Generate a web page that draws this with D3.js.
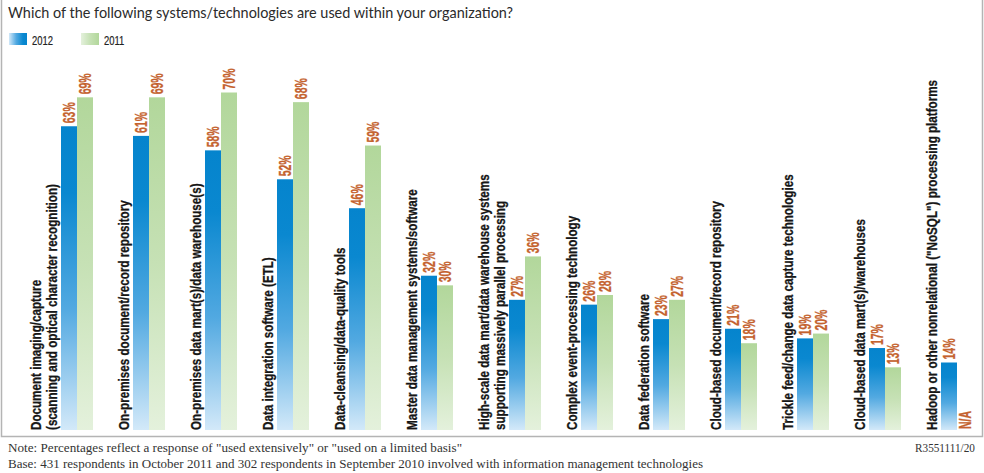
<!DOCTYPE html>
<html><head><meta charset="utf-8">
<script src="https://cdn.jsdelivr.net/npm/d3@7"></script>
<style>body{margin:0;background:#fff;} svg{display:block}</style>
</head><body><svg id="c" width="984" height="473"></svg>
<script>
const categories = [
  ["Document imaging/capture", "(scanning and optical character recognition)"],
  ["On-premises document/record repository"],
  ["On-premises data mart(s)/data warehouse(s)"],
  ["Data integration software (ETL)"],
  ["Data-cleansing/data-quality tools"],
  ["Master data management systems/software"],
  ["High-scale data mart/data warehouse systems", "supporting massively parallel processing"],
  ["Complex event-processing technology"],
  ["Data federation software"],
  ["Cloud-based document/record repository"],
  ["Trickle feed/change data capture technologies"],
  ["Cloud-based data mart(s)/warehouses"],
  ["Hadoop or other nonrelational (\"NoSQL\") processing platforms"]
];
const seriesNames = ["2012", "2011"];
const values2012 = [63, 61, 58, 52, 46, 32, 27, 26, 23, 21, 19, 17, 14];
const values2011 = [69, 69, 70, 68, 59, 30, 36, 28, 27, 18, 20, 13, null];
const subtitle = "Which of the following systems/technologies are used within your organization?";
const note1 = "Note: Percentages reflect a response of \"used extensively\" or \"used on a limited basis\"";
const note2 = "Base: 431 respondents in October 2011 and 302 respondents in September 2010 involved with information management technologies";
const code = "R3551111/20";

const svg = d3.select("#c");
const sans = "'Liberation Sans', Arial, sans-serif";

// measure helper to emulate a condensed face by horizontal compression
function measure(txt, size, weight) {
  const t = svg.append("text").attr("font-family", sans).attr("font-size", size)
    .attr("font-weight", weight).text(txt);
  const w = t.node().getComputedTextLength();
  t.remove();
  return w;
}
const labelSize = 14.5, valueSize = 16, legendSize = 12.5;
const labelK = 230 / measure("On-premises document/record repository", labelSize, "bold");
const valueK = 21 / measure("63%", valueSize, "bold");
const legendK = 21 / measure("2012", legendSize, "normal");

// gradients
const defs = svg.append("defs");
function grad(id, stops, horiz) {
  const g = defs.append("linearGradient").attr("id", id)
    .attr("x1", 0).attr("y1", 0).attr("x2", horiz ? 1 : 0).attr("y2", horiz ? 0 : 1);
  stops.forEach(s => g.append("stop").attr("offset", s[0]).attr("stop-color", s[1]));
}
const blueStops = [[0, "#0584cd"], [0.22, "#0a88d0"], [0.6, "#52a9e1"], [1, "#d3e9f9"]];
const greenStops = [[0, "#b2d79b"], [0.5, "#c6e1b5"], [1, "#e4f1dc"]];
grad("gBlue", blueStops, false);
grad("gGreen", greenStops, false);
grad("lBlue", blueStops.slice().reverse().map(s => [1 - s[0], s[1]]), true);
grad("lGreen", greenStops.slice().reverse().map(s => [1 - s[0], s[1]]), true);
const fills = {"2012": "url(#gBlue)", "2011": "url(#gGreen)"};
const legendFills = {"2012": "url(#lBlue)", "2011": "url(#lGreen)"};

// frame
svg.append("path")
  .attr("d", `M1.5,0 V436.5 H982.5 V0`)
  .attr("fill", "none").attr("stroke", "#b4b4b4").attr("stroke-width", 1.5);

// subtitle
svg.append("text").attr("x", 8).attr("y", 18)
  .attr("font-family", "Lato, 'Open Sans', sans-serif").attr("font-size", 15)
  .attr("fill", "#2b2b2b").attr("textLength", 505).attr("lengthAdjust", "spacingAndGlyphs")
  .text(subtitle);

// legend
const legend = svg.append("g");
const lx = d3.scalePoint().domain(seriesNames).range([9, 81]);
seriesNames.forEach(s => {
  legend.append("rect").attr("x", lx(s)).attr("y", 33).attr("width", 18).attr("height", 12)
    .attr("fill", legendFills[s]);
  legend.append("text").attr("transform", `translate(${lx(s) + 23},45) scale(${legendK},1)`)
    .attr("font-family", sans).attr("font-size", legendSize).attr("fill", "#222")
    .attr("stroke", "#222").attr("stroke-width", 0.2)
    .text(s);
});

// layout
const lineW = 16, pairW = 32, gapW = 24, left = 29;
let acc = 0;
const barX = categories.map(lines => {
  const x = left + acc + lines.length * lineW;
  acc += lines.length * lineW + pairW + gapW;
  return x;
});
const x1 = d3.scaleBand().domain(seriesNames).range([0, pairW]);
const y = d3.scaleLinear().domain([0, 70]).range([430, 92.5]);

const data = categories.map((c, i) => ({
  lines: c, x: barX[i],
  vals: [{s: "2012", v: values2012[i]}, {s: "2011", v: values2011[i]}]
}));

const groups = svg.append("g").selectAll("g").data(data).join("g")
  .attr("transform", d => `translate(${d.x},0)`);

groups.selectAll("rect").data(d => d.vals.filter(v => v.v != null)).join("rect")
  .attr("x", v => x1(v.s)).attr("width", x1.bandwidth())
  .attr("y", v => y(v.v)).attr("height", v => y(0) - y(v.v))
  .attr("fill", v => fills[v.s]);

groups.selectAll("text.val").data(d => d.vals).join("text").attr("class", "val")
  .attr("transform", v => {
    const cx = x1(v.s) + x1.bandwidth() / 2;
    const yy = v.v == null ? y(0) - 1 : y(v.v) - 3;
    return `translate(${cx + 6},${yy}) rotate(-90) scale(${valueK},1)`;
  })
  .attr("font-family", sans).attr("font-weight", "bold").attr("font-size", valueSize)
  .attr("fill", "#c4622e").attr("stroke", "#c4622e").attr("stroke-width", 0.3)
  .text(v => v.v == null ? "N/A" : v.v + "%");

groups.each(function(d) {
  const g = d3.select(this);
  const n = d.lines.length;
  d.lines.forEach((t, k) => {
    g.append("text")
      .attr("transform", `translate(${-4 - (n - 1 - k) * lineW},${y(0)}) rotate(-90) scale(${labelK},1)`)
      .attr("font-family", sans).attr("font-weight", "bold").attr("font-size", labelSize)
      .attr("fill", "#161616").attr("stroke", "#161616").attr("stroke-width", 0.3)
      .text(t);
  });
});

// notes
const serif = "'Liberation Serif','DejaVu Serif',serif";
svg.append("text").attr("x", 8).attr("y", 452).attr("font-family", serif).attr("font-size", 11.5)
  .attr("fill", "#333").attr("textLength", 454).attr("lengthAdjust", "spacingAndGlyphs").text(note1);
svg.append("text").attr("x", 8).attr("y", 468).attr("font-family", serif).attr("font-size", 11.5)
  .attr("fill", "#333").attr("textLength", 695).attr("lengthAdjust", "spacingAndGlyphs").text(note2);
svg.append("text").attr("x", 975).attr("y", 452).attr("text-anchor", "end").attr("font-family", serif).attr("font-size", 11.5)
  .attr("fill", "#333").attr("textLength", 60).attr("lengthAdjust", "spacingAndGlyphs").text(code);
</script></body></html>
